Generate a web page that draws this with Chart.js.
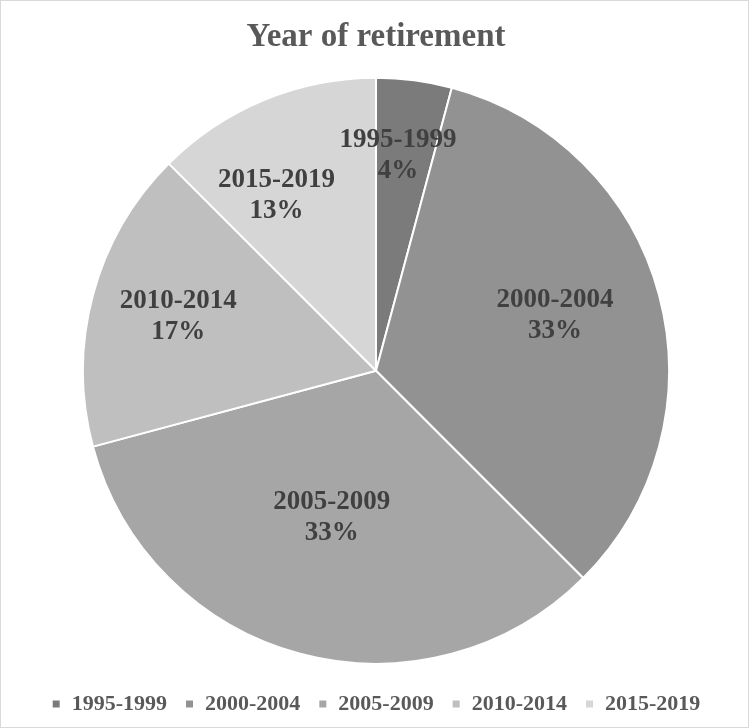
<!DOCTYPE html>
<html>
<head>
<meta charset="utf-8">
<script src="https://cdn.jsdelivr.net/npm/chart.js@4/dist/chart.umd.min.js"></script>
<style>
    html, body { margin: 0; padding: 0; background: #fff; }
    #wrap { width: 749px; height: 728px; box-sizing: border-box; border: 1px solid #d9d9d9; }
    canvas { display: block; }
</style>
</head>
<body>
<div id="wrap"><canvas id="retirement_pie" width="747" height="726"></canvas></div>
<script>
const periods = ['1995-1999', '2000-2004', '2005-2009', '2010-2014', '2015-2019'];
const counts = [1, 8, 8, 4, 3];
const sliceColors = ['#7b7b7b', '#929292', '#a6a6a6', '#bfbfbf', '#d6d6d6'];

// where each data label sits: fraction of radius, and a small turn (degrees) off the slice middle
const labelRadius = [0.74, 0.64, 0.52, 0.70, 0.69];
const labelTurn = [-1.7, -2.4, 1.9, 0.5, -7];

const sliceLabels = {
    id: 'sliceLabels',
    afterDatasetsDraw(chart) {
        const ctx = chart.ctx;
        const meta = chart.getDatasetMeta(0);
        const total = counts.reduce((a, b) => a + b, 0);
        ctx.save();
        ctx.font = 'bold 27px "Liberation Serif"';
        ctx.fillStyle = '#404040';
        ctx.textAlign = 'center';
        ctx.textBaseline = 'middle';
        meta.data.forEach(function (arc, i) {
            const mid = (arc.startAngle + arc.endAngle) / 2 + labelTurn[i] * Math.PI / 180;
            const r = arc.outerRadius * labelRadius[i];
            const x = arc.x + Math.cos(mid) * r;
            const y = arc.y + Math.sin(mid) * r;
            const pct = Math.round(counts[i] / total * 100) + '%';
            ctx.fillText(periods[i], x, y - 15);
            ctx.fillText(pct, x, y + 16);
        });
        ctx.restore();
    }
};

const ctx = document.getElementById('retirement_pie').getContext('2d');
new Chart(ctx, {
    type: 'pie',
    data: {
        labels: periods,
        datasets: [{
            data: counts,
            backgroundColor: sliceColors,
            borderColor: '#ffffff',
            borderWidth: 2
        }]
    },
    options: {
        responsive: false,
        animation: false,
        radius: 293,
        layout: { padding: { left: 3, bottom: 2 } },
        plugins: {
            title: {
                display: true,
                text: 'Year of retirement',
                color: '#595959',
                font: { family: 'Liberation Serif', size: 33, weight: 'bold' },
                padding: { top: 17, bottom: 9 }
            },
            legend: {
                position: 'bottom',
                labels: {
                    color: '#595959',
                    font: { family: 'Liberation Serif', size: 22, weight: 'bold' },
                    boxWidth: 9,
                    boxHeight: 9,
                    padding: 18
                }
            },
            tooltip: { enabled: false }
        }
    },
    plugins: [sliceLabels]
});
</script>
</body>
</html>
